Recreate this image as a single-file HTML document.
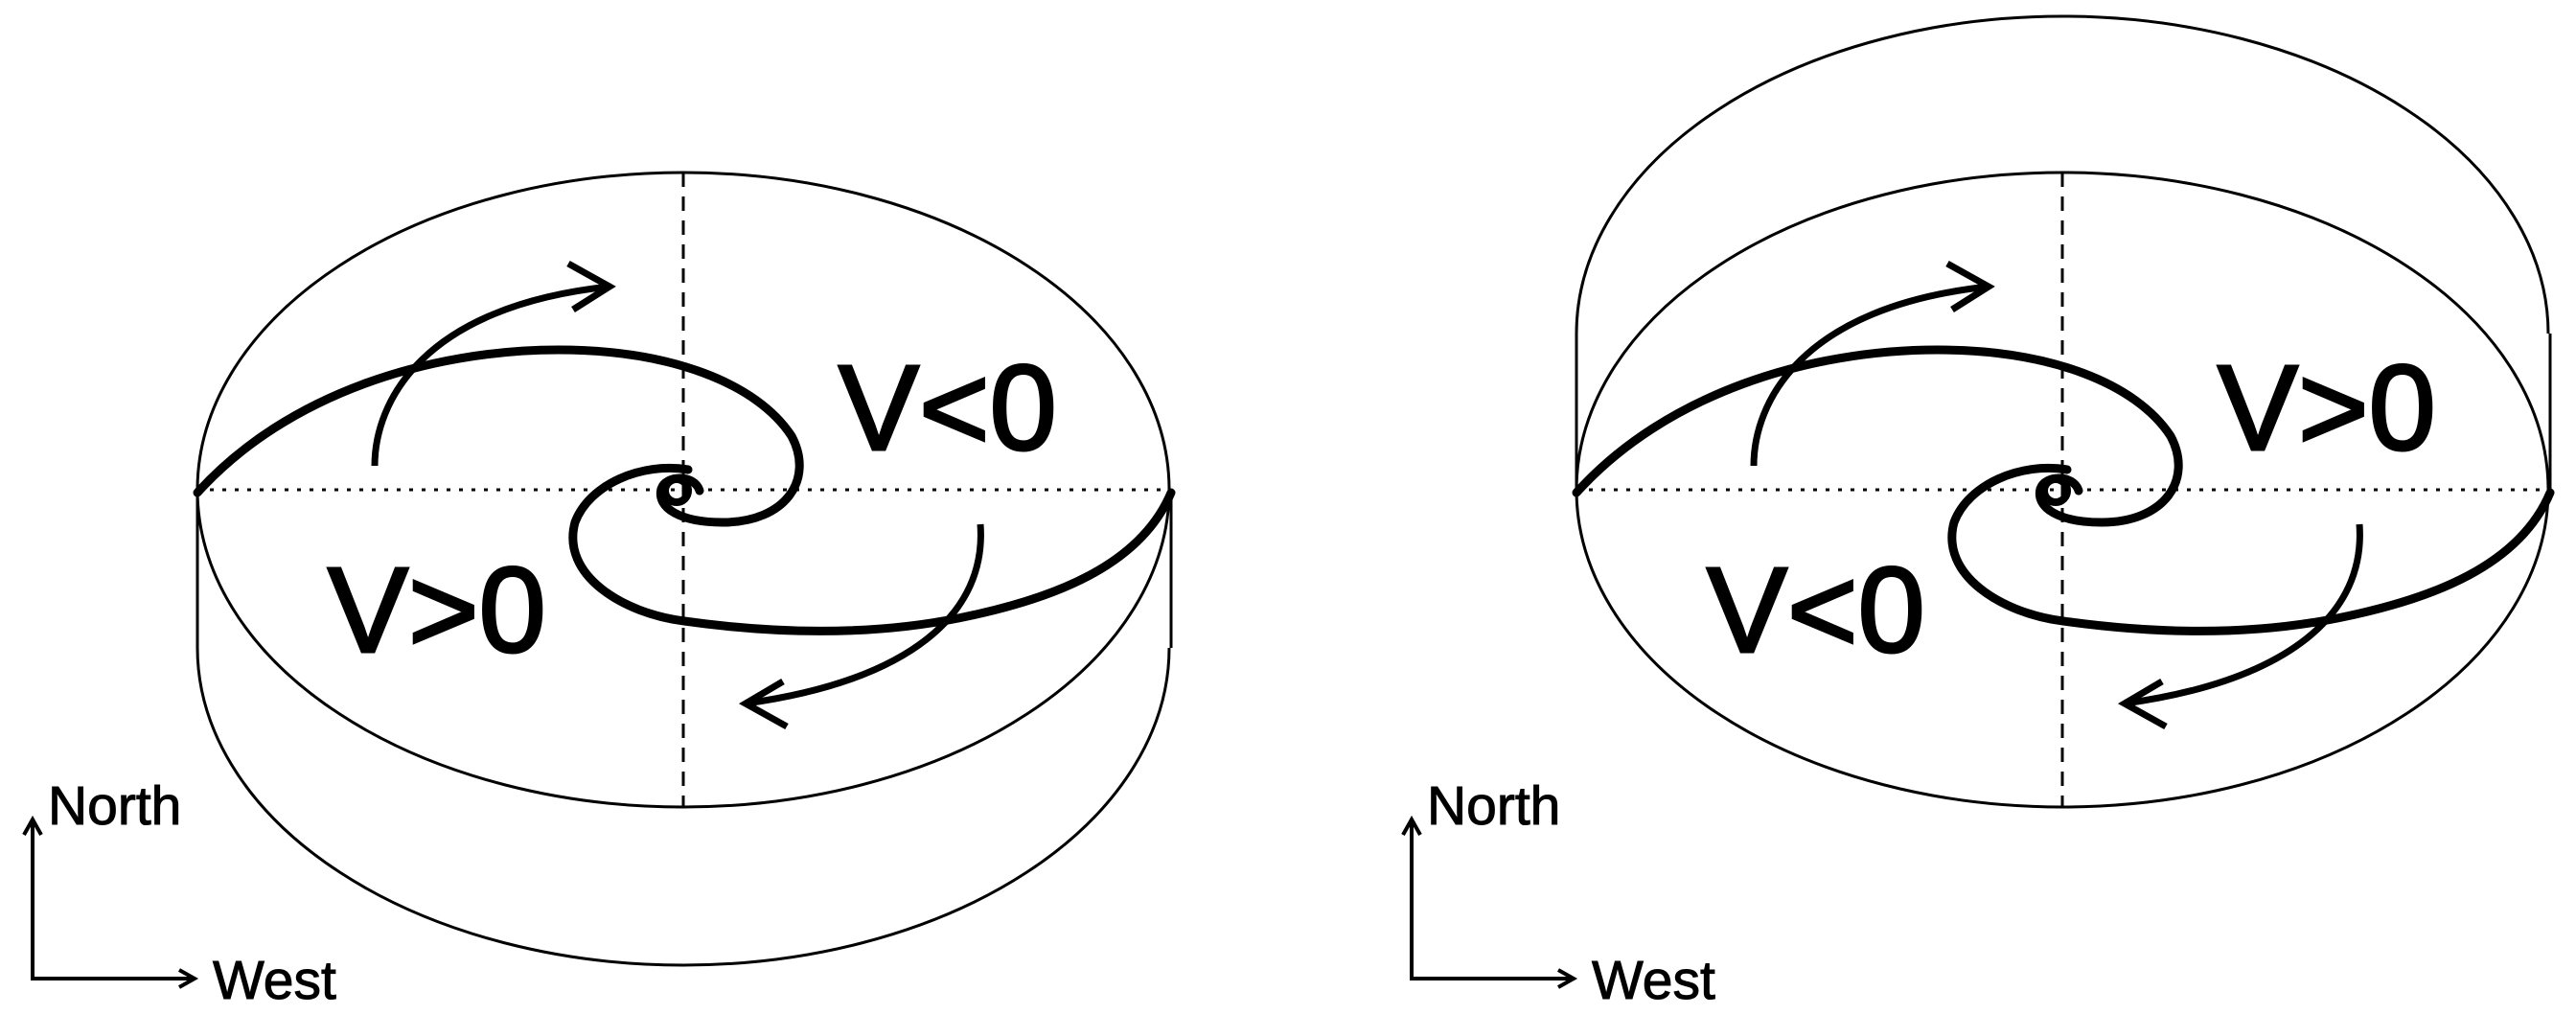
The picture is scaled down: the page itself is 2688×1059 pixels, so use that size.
<!DOCTYPE html>
<html><head><meta charset="utf-8"><style>
html,body{margin:0;padding:0;background:#fff;}
svg{display:block;}
text{font-family:"Liberation Sans",sans-serif;fill:#000;}
</style></head><body>
<svg width="2688" height="1059" viewBox="0 0 2688 1059" xmlns="http://www.w3.org/2000/svg">
<defs>
<g id="disk">
  <ellipse cx="713" cy="511" rx="507" ry="331" fill="none" stroke="#000" stroke-width="3"/>
  <line x1="713" y1="180" x2="713" y2="842" stroke="#000" stroke-width="3" stroke-dasharray="15 10"/>
  <line x1="206" y1="511" x2="1222" y2="511" stroke="#000" stroke-width="3" stroke-dasharray="4 9"/>
  <path d="M206,514 C300,410 450,365 583,365 C700,365 790,400 826,455 C850,500 820,545 754,545 C710,545 685,530 690,510 C695,495 725,495 730,512" fill="none" stroke="#000" stroke-width="9" stroke-linecap="round"/>
  <path d="M718,490 C670,482 615,505 600,545 C585,600 650,640 714,648 C800,660 900,665 1000,645 C1100,625 1190,590 1222,514" fill="none" stroke="#000" stroke-width="9" stroke-linecap="round"/>
  <circle cx="706" cy="512" r="12" fill="none" stroke="#000" stroke-width="8"/>
  <path d="M391,486 C391,420 440,320 636,299" fill="none" stroke="#000" stroke-width="7"/>
  <path d="M593,275 L636,299 L598,323" fill="none" stroke="#000" stroke-width="7"/>
  <path d="M1023,547 C1030,640 950,710 778,734" fill="none" stroke="#000" stroke-width="7"/>
  <path d="M817,711 L778,734 L821,758" fill="none" stroke="#000" stroke-width="7"/>
  <line x1="34" y1="1022" x2="34" y2="856" stroke="#000" stroke-width="4"/>
  <path d="M25,871 L34,855 L43,871" fill="none" stroke="#000" stroke-width="4"/>
  <line x1="32" y1="1021" x2="202" y2="1021" stroke="#000" stroke-width="4"/>
  <path d="M187,1012 L203,1021 L187,1030" fill="none" stroke="#000" stroke-width="4"/>
  <text x="50" y="860" font-size="57" stroke="#000" stroke-width="1">North</text>
  <text x="222" y="1042" font-size="57" stroke="#000" stroke-width="1">West</text>
</g>
</defs>
<!-- left -->
<use href="#disk"/>
<line x1="206" y1="511" x2="206" y2="676" stroke="#000" stroke-width="3"/>
<line x1="1222" y1="511" x2="1222" y2="676" stroke="#000" stroke-width="3"/>
<path d="M206,676 A507,331 0 0 0 1220,676" fill="none" stroke="#000" stroke-width="3"/>
<g stroke="#000" stroke-width="3">
<text x="875" y="469" font-size="126">V&lt;0</text>
<text x="342" y="680" font-size="126">V&gt;0</text>
</g>
<!-- right -->
<g transform="translate(1439,0)">
<use href="#disk"/>
<line x1="206" y1="348" x2="206" y2="511" stroke="#000" stroke-width="3"/>
<line x1="1222" y1="348" x2="1222" y2="511" stroke="#000" stroke-width="3"/>
<path d="M206,348 A507,331 0 0 1 1220,348" fill="none" stroke="#000" stroke-width="3"/>
<g stroke="#000" stroke-width="3">
<text x="875" y="469" font-size="126">V&gt;0</text>
<text x="342" y="680" font-size="126">V&lt;0</text>
</g>
</g>
</svg>
</body></html>
